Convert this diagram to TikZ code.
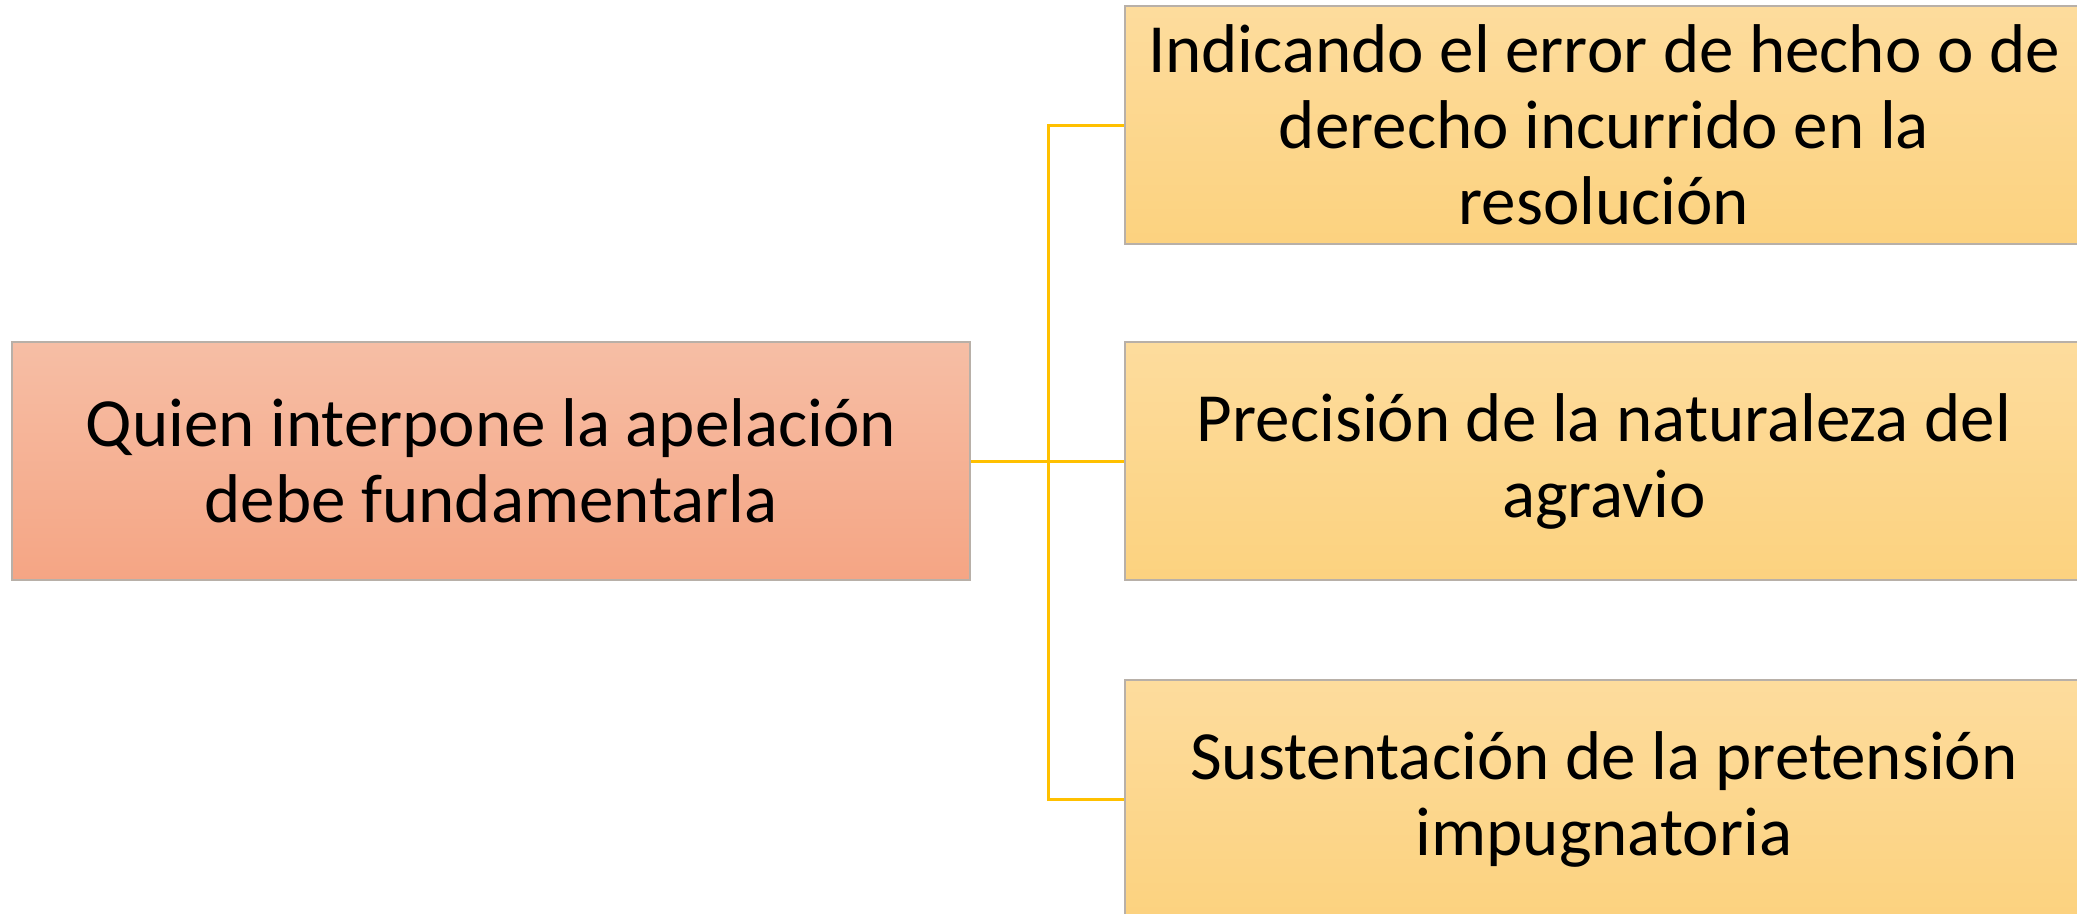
\documentclass[tikz,border=0pt]{standalone}
\usepackage{fontspec}
\setmainfont{Carlito}
\definecolor{lefttop}{HTML}{F6BEA5}
\definecolor{leftbot}{HTML}{F5A584}
\definecolor{righttop}{HTML}{FDDC9D}
\definecolor{rightbot}{HTML}{FCD27F}
\definecolor{edge}{HTML}{B8B0A8}
\definecolor{link}{HTML}{FFC000}
\begin{document}
\begin{tikzpicture}[x=1pt,y=-1pt,
  box/.style={draw=edge,line width=2pt,minimum width=958pt,minimum height=238pt,
    align=center,inner sep=0pt,
    font=\fontsize{69}{76}\selectfont},
  leftbox/.style={box,top color=lefttop,bottom color=leftbot},
  rightbox/.style={box,top color=righttop,bottom color=rightbot},
  conn/.style={draw=link,line width=3pt}]
\useasboundingbox (0,0) rectangle (2077,913);
\clip (0,0) rectangle (2077,913);
\node[leftbox] (L) at (491,461) {Quien interpone la apelación\\debe fundamentarla};
\node[rightbox] (R1) at (1604,125) {Indicando el error de hecho o de\\derecho incurrido en la\\resolución};
\node[rightbox] (R2) at (1604,461) {Precisión de la naturaleza del\\agravio};
\node[rightbox] (R3) at (1604,799) {Sustentación de la pretensión\\impugnatoria};
\coordinate (J) at (1048,461);
\draw[conn] (L.east) -- (R2.west);
\draw[conn] (J) |- (R1.west);
\draw[conn] (J) |- (R3.west);
\end{tikzpicture}
\end{document}
